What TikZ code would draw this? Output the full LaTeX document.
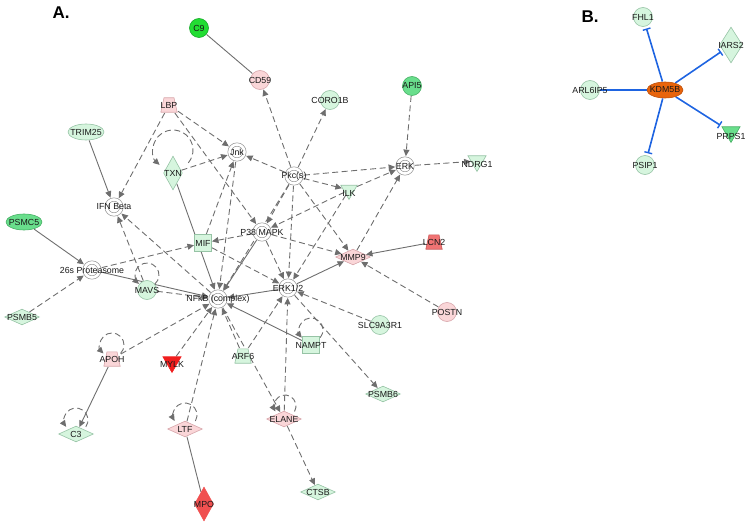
\documentclass[tikz,border=0pt]{standalone}
\usepackage{fontspec}
\setmainfont{Liberation Sans}
\usetikzlibrary{shapes.geometric,arrows.meta,backgrounds,calc}
\definecolor{lgf}{RGB}{214,245,222}
\definecolor{lgd}{RGB}{150,195,165}
\definecolor{pkf}{RGB}{250,214,216}
\definecolor{pkd}{RGB}{215,165,170}
\definecolor{grpd}{RGB}{150,150,150}
\definecolor{bgf}{RGB}{34,221,51}
\definecolor{bgd}{RGB}{20,170,40}
\definecolor{mgf}{RGB}{105,222,140}
\definecolor{mgd}{RGB}{70,175,100}
\definecolor{rdf}{RGB}{240,30,30}
\definecolor{lcf}{RGB}{240,115,115}
\definecolor{lcd}{RGB}{200,90,90}
\definecolor{mpf}{RGB}{240,80,80}
\definecolor{orf}{RGB}{232,100,12}
\definecolor{ordk}{RGB}{190,80,10}
\definecolor{eg}{RGB}{110,110,110}
\definecolor{bln}{RGB}{30,100,225}
\definecolor{txt}{RGB}{25,25,25}
\begin{document}
\begin{tikzpicture}[x=1pt,y=1pt,
  lbl/.style={font=\fontsize{8.8}{9}\selectfont, text=txt, inner sep=0pt},
  nb/.style={inner sep=0pt, outer sep=0.5pt, line width=0.6pt},
  circ/.style={nb, circle, minimum size=19pt},
  grp/.style={nb, circle, minimum size=15pt, draw=grpd, fill=white, double=white, double distance=2.6pt, line width=0.65pt, outer sep=2.4pt},
  ell/.style={nb, ellipse, minimum width=36pt, minimum height=16pt},
  trap/.style 2 args={nb, rectangle, minimum width=17pt, minimum height=15pt,
    path picture={\filldraw[fill=#1,draw=#2,line width=0.6pt]
      ([xshift=0.3pt,yshift=0.3pt]path picture bounding box.south west) --
      ([xshift=3.5pt,yshift=-0.3pt]path picture bounding box.north west) --
      ([xshift=-3.5pt,yshift=-0.3pt]path picture bounding box.north east) --
      ([xshift=-0.3pt,yshift=0.3pt]path picture bounding box.south east) -- cycle;}},
  sq/.style={nb, rectangle, minimum size=17pt},
  vdia/.style={nb, diamond, minimum width=19pt, minimum height=34pt},
  hdia/.style={nb, diamond, minimum width=35pt, minimum height=16pt},
  ktri/.style={nb, regular polygon, regular polygon sides=3, shape border rotate=180, minimum size=21pt},
  lg/.style={fill=lgf, draw=lgd},
  pk/.style={fill=pkf, draw=pkd},
  sn/.style={draw=eg, line width=0.9pt},
  sl/.style={sn, -{Triangle[length=6.5pt,width=6pt]}},
  dl/.style={sl, dash pattern=on 6pt off 3.5pt},
  bl/.style={draw=bln, line width=1.6pt},
  blt/.style={bl, -{Bar[width=8pt,line width=1.4pt]}, shorten >=2pt},
  panel/.style={font=\bfseries\fontsize{17}{17}\selectfont, inner sep=0pt}
]
\useasboundingbox (0,0) rectangle (750,-527);
\node[panel] (la) at (61,-13) {A.};
\node[panel] (lb) at (590,-17) {B.};

% Panel A nodes
\node[circ,fill=bgf,draw=bgd,label={[lbl]center:C9}] (c9) at (199,-28) {};
\node[circ,pk,label={[lbl]center:CD59}] (cd59) at (260,-80) {};
\node[trap={pkf}{pkd},label={[lbl]center:LBP}] (lbp) at (169,-105) {};
\node[circ,lg,label={[lbl]center:CORO1B}] (coro) at (330,-100) {};
\node[circ,fill=mgf,draw=mgd,label={[lbl]center:API5}] (api5) at (412,-86) {};
\node[ell,lg,label={[lbl]center:TRIM25}] (trim) at (86,-132) {};
\node[grp,label={[lbl]center:Jnk}] (jnk) at (237,-152) {};
\node[vdia,lg,label={[lbl]center:TXN}] (txn) at (173,-173) {};
\node[grp,label={[lbl]center:Pkc(s)}] (pkc) at (294,-176) {};
\node[grp,label={[lbl]center:ERK}] (erk) at (405,-166) {};
\node[ktri,lg,label={[lbl,yshift=-3pt]center:NDRG1}] (ndrg) at (477,-161) {};
\node[ktri,lg,minimum size=19pt,label={[lbl,yshift=-3pt]center:ILK}] (ilk) at (349,-190) {};
\node[grp,label={[lbl]center:IFN Beta}] (ifn) at (114,-207) {};
\node[ell,fill=mgf,draw=mgd,label={[lbl]center:PSMC5}] (psmc5) at (24,-222) {};
\node[sq,lg,label={[lbl]center:MIF}] (mif) at (203,-243) {};
\node[grp,label={[lbl]center:P38 MAPK}] (p38) at (262,-232) {};
\node[grp,label={[lbl]center:26s Proteasome}] (prot) at (92,-270) {};
\node[circ,lg,label={[lbl]center:MAVS}] (mavs) at (147,-290) {};
\node[hdia,pk,label={[lbl]center:MMP9}] (mmp9) at (353,-257) {};
\node[trap={lcf}{lcd},label={[lbl]center:LCN2}] (lcn2) at (434,-242) {};
\node[grp,label={[lbl]center:NFkB (complex)}] (nfkb) at (218,-299) {};
\node[grp,label={[lbl]center:ERK1/2}] (erk12) at (288,-288) {};
\node[circ,pk,label={[lbl]center:POSTN}] (postn) at (447,-312) {};
\node[circ,lg,label={[lbl]center:SLC9A3R1}] (slc) at (380,-325) {};
\node[hdia,lg,label={[lbl]center:PSMB5}] (psmb5) at (22,-317) {};
\node[sq,lg,label={[lbl]center:NAMPT}] (nampt) at (311,-345) {};
\node[trap={lgf}{lgd},label={[lbl]center:ARF6}] (arf6) at (243,-356) {};
\node[trap={pkf}{pkd},label={[lbl]center:APOH}] (apoh) at (112,-359) {};
\node[ktri,fill=rdf,draw=rdf,label={[lbl,yshift=-2pt]center:MYLK}] (mylk) at (172,-362) {};
\node[hdia,lg,label={[lbl]center:PSMB6}] (psmb6) at (383,-394) {};
\node[hdia,pk,label={[lbl]center:ELANE}] (elane) at (284,-419) {};
\node[hdia,pk,label={[lbl]center:LTF}] (ltf) at (185,-429) {};
\node[hdia,lg,label={[lbl]center:C3}] (c3) at (76,-434) {};
\node[hdia,lg,label={[lbl]center:CTSB}] (ctsb) at (318,-492) {};
\node[vdia,fill=mpf,draw=mpf,label={[lbl]center:MPO}] (mpo) at (204,-504) {};

% Panel B nodes
\node[ell,fill=orf,draw=ordk,label={[lbl]center:KDM5B}] (kdm) at (665,-90) {};
\node[circ,lg,label={[lbl]center:FHL1}] (fhl1) at (643,-17) {};
\node[vdia,lg,minimum width=23pt,minimum height=36pt,label={[lbl]center:IARS2}] (iars2) at (731,-45) {};
\node[circ,lg,label={[lbl]center:ARL6IP5}] (arl) at (590,-90) {};
\node[ktri,fill=mgf,draw=mgd,label={[lbl,yshift=-4pt]center:PRPS1}] (prps1) at (731,-132) {};
\node[circ,lg,label={[lbl]center:PSIP1}] (psip1) at (645,-165) {};

\begin{scope}[on background layer]
% solid
\draw[sn] (c9) -- (cd59);
\draw[sn] (ltf) -- (mpo);
\draw[sl] (trim) -- (ifn);
\draw[sl] (psmc5) -- (prot);
\draw[sl] (prot) -- (nfkb);
\draw[sl] (txn) -- (nfkb);
\draw[sl] (p38) -- (nfkb);
\draw[sl] (erk12) -- (nfkb);
\draw[sl] (erk12) -- (mmp9);
\draw[sl] (lcn2) -- (mmp9);
\draw[sl] (nampt) -- (nfkb);
\draw[sl] (apoh) -- (c3);
% dashed
\draw[dl] (pkc) -- (cd59);
\draw[dl] (pkc) -- (coro);
\draw[dl] (pkc) -- (jnk);
\draw[dl] (pkc) -- (erk);
\draw[dl] (pkc) -- (ilk);
\draw[dl] (pkc) -- (p38);
\draw[dl] (pkc) -- (nfkb);
\draw[dl] (pkc) -- (mmp9);
\draw[dl] (pkc) -- (erk12);
\draw[dl] (api5) -- (erk);
\draw[dl] (erk) -- (ndrg);
\draw[dl] (ilk) -- (erk);
\draw[dl] (ilk) -- (p38);
\draw[dl] (ilk) -- (erk12);
\draw[dl] (mmp9) -- (erk);
\draw[dl] (lbp) -- (ifn);
\draw[dl] (lbp) -- (jnk);
\draw[dl] (lbp) -- (p38);
\draw[dl] (txn) -- (jnk);
\draw[dl] (mif) -- (jnk);
\draw[dl] (jnk) -- (nfkb);
\draw[dl] (p38) -- (mif);
\draw[dl] (p38) -- (mmp9);
\draw[dl] (p38) -- (erk12);
\draw[dl] (prot) -- (mif);
\draw[dl] (psmb5) -- (prot);
\draw[dl] (mavs) -- (ifn);
\draw[dl] (nfkb) -- (ifn);
\draw[dl] (mavs) -- (nfkb);
\draw[dl] (mif) -- (erk12);
\draw[dl] (slc) -- (erk12);
\draw[dl] (erk12) -- (psmb6);
\draw[dl] (arf6) -- (erk12);
\draw[dl] (arf6) -- (nfkb);
\draw[dl] (nfkb) -- (elane);
\draw[dl] (elane) -- (erk12);
\draw[dl] (elane) -- (ctsb);
\draw[dl] (ltf) -- (nfkb);
\draw[dl] (mylk) -- (nfkb);
\draw[dl] (apoh) -- (nfkb);
\draw[dl] (postn) -- (mmp9);
% self loops
\draw[dl] ($(txn)+(0,23)+(-40:20)$) arc[start angle=-40, end angle=228, radius=20pt];
\draw[dl] ($(mavs)+(0,15)+(-50:12)$) arc[start angle=-50, end angle=228, radius=12pt];
\draw[dl] ($(apoh)+(0,14)+(-45:12)$) arc[start angle=-45, end angle=225, radius=12pt];
\draw[dl] ($(c3)+(0,14)+(-35:12)$) arc[start angle=-35, end angle=215, radius=12pt];
\draw[dl] ($(ltf)+(0,14)+(-30:12)$) arc[start angle=-30, end angle=210, radius=12pt];
\draw[dl] ($(elane)+(1,13)+(-30:11)$) arc[start angle=-30, end angle=210, radius=11pt];
\draw[dl] ($(nampt)+(0,15)+(-40:12)$) arc[start angle=-40, end angle=220, radius=12pt];
% panel B
\draw[blt] (kdm) -- (fhl1);
\draw[blt] (kdm) -- (iars2);
\draw[blt] (kdm) -- (prps1);
\draw[blt] (kdm) -- (psip1);
\draw[bl] (kdm) -- (arl);
\end{scope}
\end{tikzpicture}
\end{document}
